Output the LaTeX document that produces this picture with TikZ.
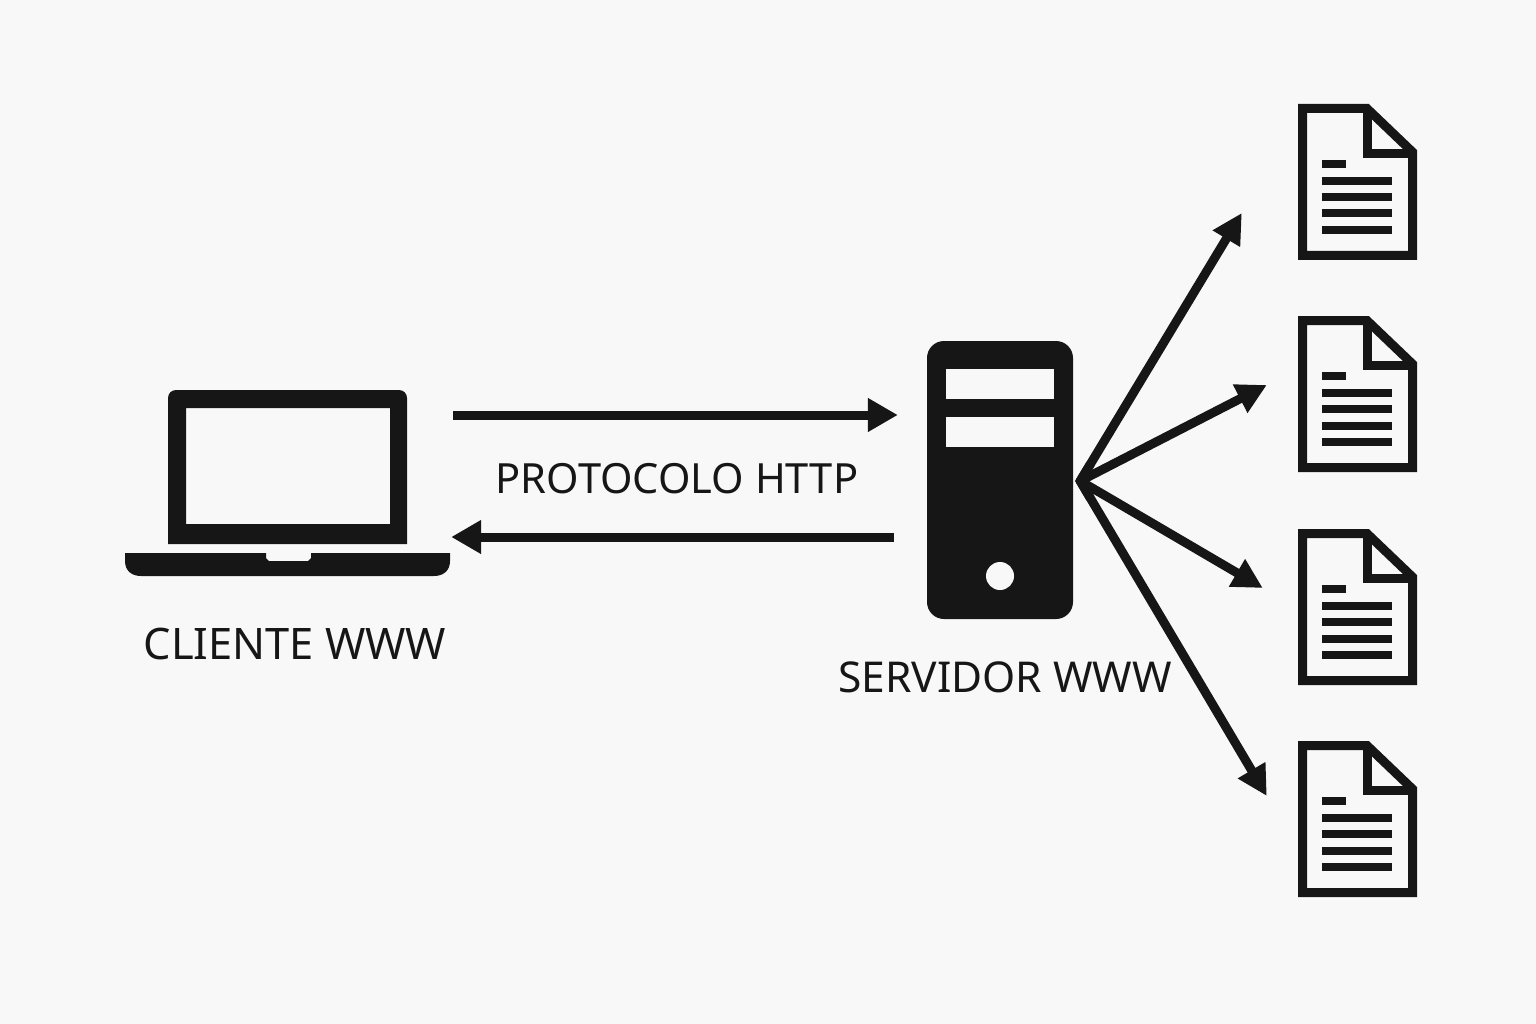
\documentclass[tikz,border=0pt]{standalone}
\usepackage{fontspec}
\setmainfont{Noto Sans}
\usepackage{tikz}
\usetikzlibrary{arrows.meta,positioning,calc}
\definecolor{ink}{HTML}{161616}
\definecolor{paper}{HTML}{F8F8F8}
\tikzset{
  link/.style={draw=ink, line width=9pt, -{Triangle[length=30pt,width=32pt]}},
  fan/.style={draw=ink, line width=9pt, -{Triangle[length=30pt,width=30pt]}},
  lbl/.style={inner sep=0pt, text=ink, font=\fontsize{43}{43}\selectfont},
  holder/.style={inner sep=0pt, minimum width=119pt, minimum height=156pt},
  slot/.style={fill=paper, inner sep=0pt, minimum width=108pt, minimum height=30pt},
  docicon/.pic={
    \draw[ink, line width=9pt, miter limit=10] (-55,-73.5) -- (9.5,-73.5) -- (55,-30) -- (55,73.5) -- (-55,73.5) -- cycle;
    \draw[ink, line width=9pt] (9.5,-73.5) -- (9.5,-28.5) -- (55,-28.5);
    \fill[ink] (-35.5,-22) rectangle (-11.5,-14);
    \fill[ink] (-35.5,-5) rectangle (34.5,3);
    \fill[ink] (-35.5,11) rectangle (34.5,19);
    \fill[ink] (-35.5,27.5) rectangle (34.5,35.5);
    \fill[ink] (-35.5,44) rectangle (34.5,52);
  }
}
\begin{document}
\begin{tikzpicture}[x=1pt,y=-1pt]
\fill[paper] (0,0) rectangle (1536,1024);
\useasboundingbox (0,0) rectangle (1536,1024);
% laptop
\node[inner sep=0pt, minimum width=325pt, minimum height=186pt] (laptop) at (287.5,483) {};
\fill[ink, even odd rule] (168,544) -- (168,398) arc[start angle=180, end angle=90, radius=8pt] -- (399,390) arc[start angle=90, end angle=0, radius=8pt] -- (407,544) -- cycle (186,408) rectangle (390,524);
\fill[ink] (125,553) -- (266,553) -- (266,558) -- (269,561) -- (308,561) -- (311,558) -- (311,553) -- (450,553) -- (450,561) .. controls (450,571) and (443,576) .. (434,576) -- (141,576) .. controls (132,576) and (125,571) .. (125,561) -- cycle;
% server
\node[fill=ink, rounded corners=17pt, inner sep=0pt, minimum width=146pt, minimum height=278pt] (srv) at (1000,480) {};
\node[slot] (slot1) at ([yshift=96pt]srv.center) {};
\node[slot] (slot2) at ([yshift=48pt]srv.center) {};
\node[circle, fill=paper, inner sep=0pt, minimum size=28pt] (led) at ([yshift=-96pt]srv.center) {};
% documents
\node[holder] (doc1) at (1357.5,182) {};
\node[holder] (doc2) at (1357.5,394) {};
\node[holder] (doc3) at (1357.5,607) {};
\node[holder] (doc4) at (1357.5,819) {};
\pic at (doc1) {docicon};
\pic at (doc2) {docicon};
\pic at (doc3) {docicon};
\pic at (doc4) {docicon};
% labels
\node[lbl, below=52pt of laptop, xshift=7.5pt, font=\fontsize{43.4}{43}\selectfont] (cli) {CLIENTE WWW};
\node[lbl, below=42pt of srv, xshift=5pt, font=\fontsize{42.5}{43}\selectfont] (ser) {SERVIDOR WWW};
\node[lbl, font=\fontsize{41.6}{43}\selectfont] (http) at (677,479) {PROTOCOLO HTTP};
% arrows
\draw[link] ([xshift=3pt,yshift=68pt]laptop.east) -- ([xshift=-29pt,yshift=65pt]srv.west);
\draw[link] ([xshift=-33pt,yshift=-57pt]srv.west) -- ([xshift=1pt,yshift=-54pt]laptop.east);
\coordinate (hub) at ([xshift=7pt,yshift=-1pt]srv.east);
\coordinate (tip1) at ([xshift=-56pt,yshift=-31pt]doc1.west);
\coordinate (tip2) at ([xshift=-31pt,yshift=9pt]doc2.west);
\coordinate (tip3) at ([xshift=-35pt,yshift=19pt]doc3.west);
\coordinate (tip4) at ([xshift=-31pt,yshift=23pt]doc4.west);
\draw[fan] (hub) -- (tip1);
\draw[fan] (hub) -- (tip2);
\draw[fan] (hub) -- (tip3);
\draw[fan] (hub) -- (tip4);
\draw[draw=ink, line width=9pt, miter limit=10] ($(hub)!20pt!(tip1)$) -- (hub) -- ($(hub)!20pt!(tip4)$);
\end{tikzpicture}
\end{document}
